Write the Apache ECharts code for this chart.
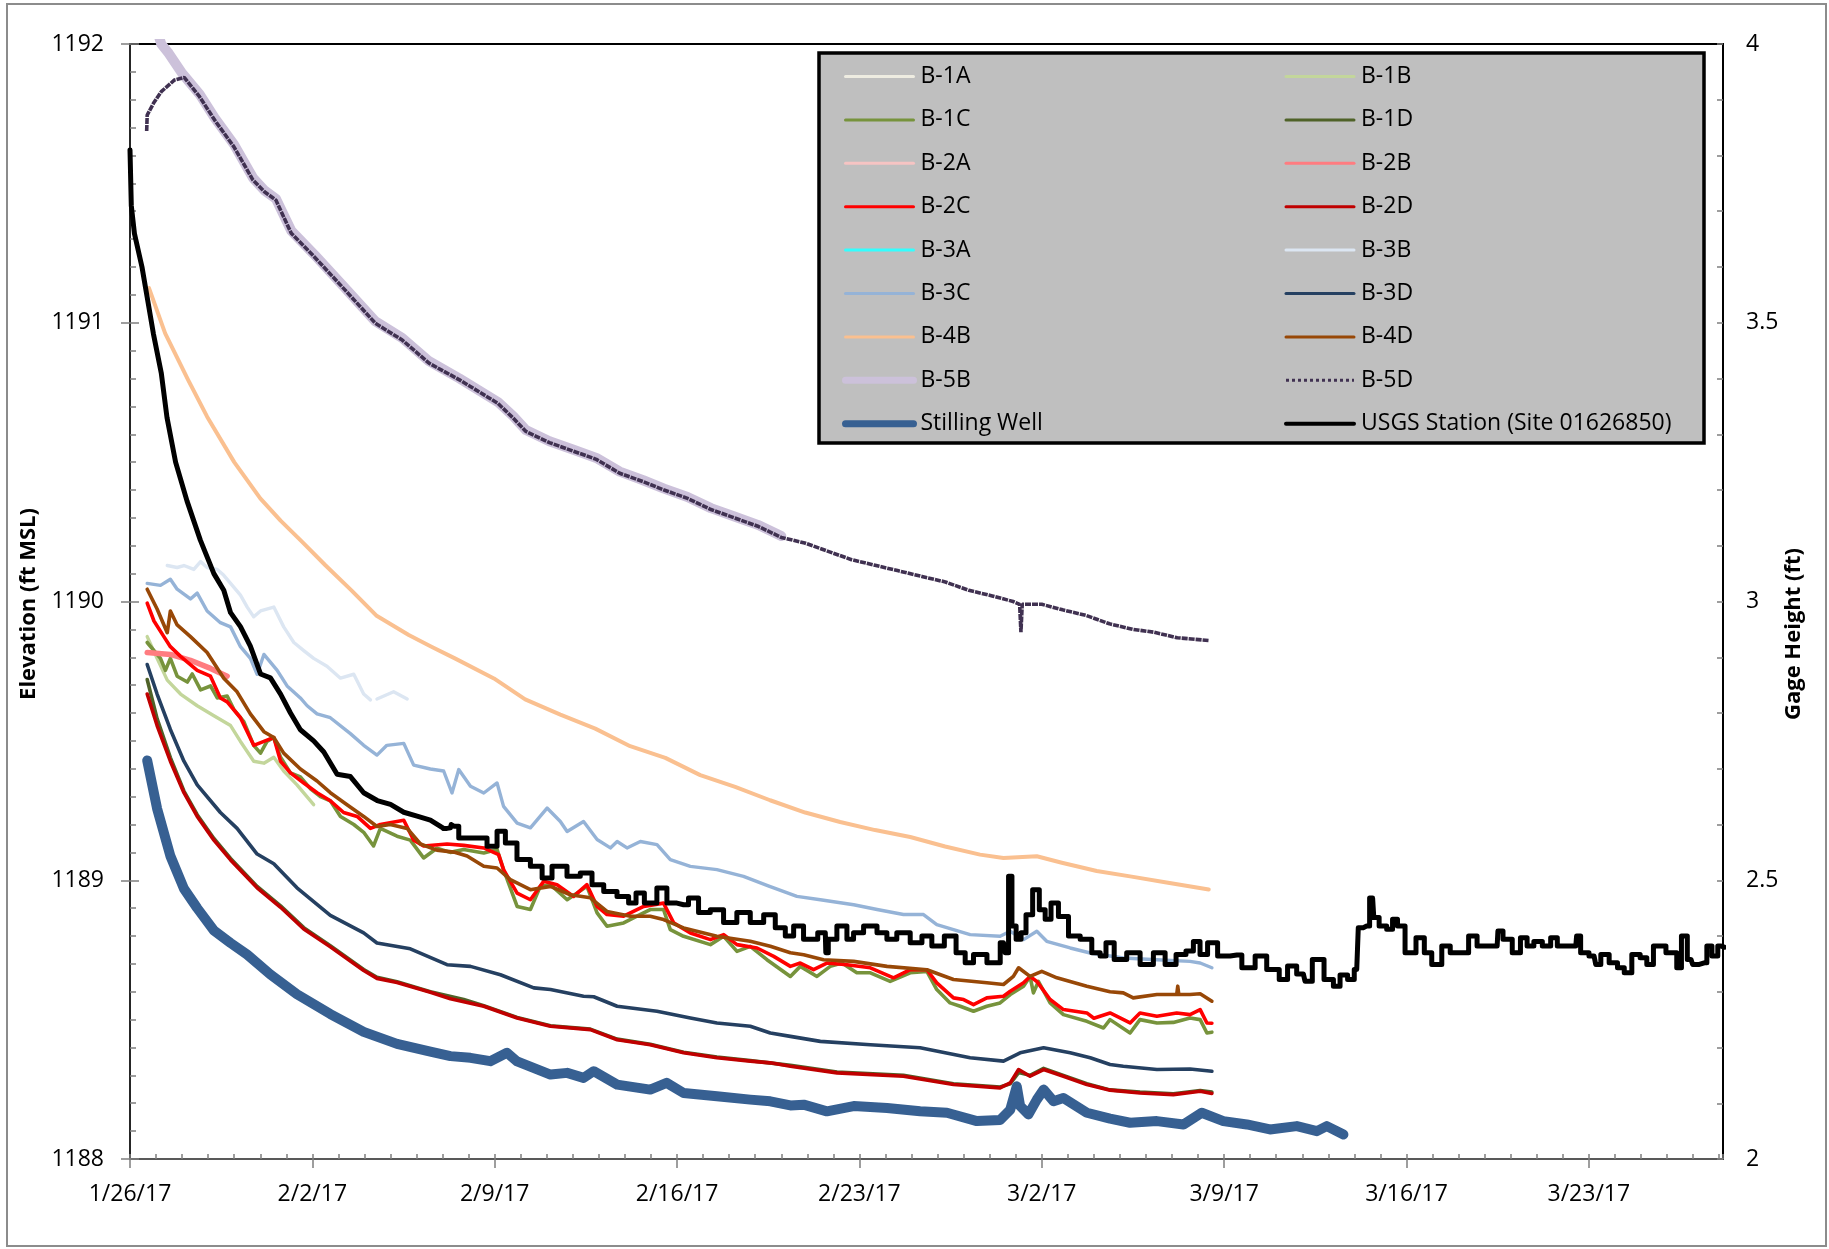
<!DOCTYPE html>
<html>
<head>
<meta charset="utf-8">
<title>Well and stream elevations, Jan–Mar 2017</title>
<script src="https://cdn.jsdelivr.net/npm/echarts@6/dist/echarts.min.js"></script>
<style>
  html, body { margin: 0; padding: 0; background: #fff; }
  #chart { width: 1829px; height: 1249px; }
</style>
</head>
<body>
<div id="chart"></div>
<script>
// Time is stored as days elapsed since the first day on the axis.
const START_DATE = Date.UTC(2017, 0, 26);
const X_MAX_DAYS = 61.15;

// Axis ranges and tick steps
const ELEV_MIN = 1188, ELEV_MAX = 1192, ELEV_STEP = 1;
const GAGE_MIN = 2, GAGE_MAX = 4, GAGE_STEP = 0.5;

// Groundwater elevations (ft MSL): [day, elevation]
const b1A = [];
const b1B = [[0.66,1189.874],[1.04,1189.796],[1.43,1189.718],[1.94,1189.668],[2.58,1189.626],[3.22,1189.59],[3.86,1189.555],[4.24,1189.498],[4.75,1189.427],[5.14,1189.42],[5.52,1189.441],[5.9,1189.392],[6.41,1189.342],[7.05,1189.271]];
const b1C = [[0.66,1189.853],[1.17,1189.796],[1.36,1189.753],[1.55,1189.796],[1.81,1189.732],[2.2,1189.711],[2.39,1189.74],[2.71,1189.683],[3.09,1189.697],[3.35,1189.654],[3.73,1189.661],[3.99,1189.612],[4.37,1189.569],[4.75,1189.484],[5.01,1189.456],[5.26,1189.498],[5.52,1189.512],[5.78,1189.441],[6.16,1189.385],[6.54,1189.371],[6.93,1189.328],[7.31,1189.3],[7.69,1189.285],[8.08,1189.229],[8.59,1189.2],[8.97,1189.172],[9.35,1189.123],[9.61,1189.186],[10.25,1189.158],[10.76,1189.144],[11.27,1189.08],[11.78,1189.115],[12.3,1189.1],[12.81,1189.11],[13.58,1189.098],[14.09,1189.11],[14.34,1189.038],[14.86,1188.906],[15.37,1188.895],[15.75,1188.978],[16.14,1188.984],[16.78,1188.93],[17.54,1188.978],[17.93,1188.883],[18.31,1188.835],[18.95,1188.847],[19.46,1188.871],[19.97,1188.895],[20.48,1188.895],[20.74,1188.823],[21.25,1188.799],[22.28,1188.769],[22.79,1188.799],[23.3,1188.745],[23.81,1188.763],[24.45,1188.715],[25.35,1188.655],[25.73,1188.691],[26.37,1188.655],[26.88,1188.691],[27.33,1188.703],[27.9,1188.668],[28.42,1188.668],[29.18,1188.637],[29.95,1188.668],[30.59,1188.673],[30.97,1188.608],[31.48,1188.56],[31.87,1188.548],[32.38,1188.53],[32.89,1188.548],[33.4,1188.56],[33.79,1188.59],[34.3,1188.62],[34.55,1188.655],[34.68,1188.596],[34.87,1188.637],[35.32,1188.56],[35.83,1188.518],[36.73,1188.494],[37.37,1188.47],[37.62,1188.5],[38.39,1188.452],[38.77,1188.5],[39.42,1188.488],[40.05,1188.49],[40.69,1188.506],[41.08,1188.5],[41.34,1188.452],[41.53,1188.455]];
const b1D = [[0.66,1189.72],[1.04,1189.58],[1.55,1189.44],[2.07,1189.32],[2.58,1189.235],[3.22,1189.15],[3.86,1189.078],[4.88,1188.978],[5.78,1188.908],[6.67,1188.83],[7.69,1188.765],[8.97,1188.68],[9.48,1188.652],[10.25,1188.636],[11.53,1188.6],[12.81,1188.572],[13.58,1188.55],[14.86,1188.508],[16.14,1188.478],[17.67,1188.466],[18.7,1188.43],[19.97,1188.412],[21.25,1188.383],[22.53,1188.366],[23.81,1188.353],[25.35,1188.336],[27.14,1188.312],[29.69,1188.3],[31.61,1188.27],[33.4,1188.258],[33.79,1188.27],[34.11,1188.31],[34.55,1188.3],[35.07,1188.325],[35.83,1188.3],[36.73,1188.27],[37.62,1188.248],[38.77,1188.24],[40.05,1188.234],[41.08,1188.246],[41.53,1188.24]];
const b2A = [];
const b2B = [[0.66,1189.817],[1.55,1189.81],[2.32,1189.789],[3.09,1189.76],[3.73,1189.732]];
const b2C = [[0.66,1189.994],[0.92,1189.93],[1.3,1189.874],[1.55,1189.838],[1.94,1189.803],[2.58,1189.753],[3.09,1189.732],[3.47,1189.654],[3.73,1189.64],[4.24,1189.583],[4.75,1189.484],[5.14,1189.498],[5.52,1189.512],[5.78,1189.427],[6.16,1189.385],[6.67,1189.349],[7.18,1189.314],[7.69,1189.285],[8.2,1189.243],[8.72,1189.229],[9.23,1189.186],[9.61,1189.2],[10.51,1189.215],[10.89,1189.144],[11.27,1189.123],[12.17,1189.13],[12.81,1189.125],[13.58,1189.116],[14.15,1189.092],[14.34,1189.038],[14.86,1188.954],[15.37,1188.93],[15.88,1188.996],[16.39,1188.984],[17.03,1188.942],[17.54,1188.984],[17.93,1188.906],[18.31,1188.877],[18.95,1188.871],[19.72,1188.906],[20.48,1188.918],[20.87,1188.847],[21.51,1188.811],[22.28,1188.787],[22.79,1188.805],[23.3,1188.769],[24.07,1188.757],[24.71,1188.727],[25.35,1188.691],[25.73,1188.703],[26.24,1188.679],[26.75,1188.703],[27.52,1188.697],[28.42,1188.686],[29.31,1188.65],[29.95,1188.679],[30.59,1188.679],[30.97,1188.632],[31.61,1188.578],[32.0,1188.572],[32.38,1188.554],[32.89,1188.578],[33.53,1188.584],[33.79,1188.602],[34.3,1188.632],[34.55,1188.655],[34.81,1188.637],[35.32,1188.572],[35.83,1188.536],[36.73,1188.524],[37.0,1188.505],[37.62,1188.524],[38.39,1188.488],[38.77,1188.524],[39.42,1188.512],[40.18,1188.524],[40.69,1188.518],[41.08,1188.536],[41.34,1188.488],[41.53,1188.487]];
const b2D = [[0.66,1189.668],[1.04,1189.555],[1.55,1189.427],[2.07,1189.314],[2.58,1189.229],[3.22,1189.144],[3.86,1189.073],[4.88,1188.973],[5.78,1188.903],[6.67,1188.825],[7.69,1188.761],[8.97,1188.676],[9.48,1188.648],[10.25,1188.633],[11.53,1188.598],[12.3,1188.575],[13.58,1188.548],[14.86,1188.506],[16.14,1188.476],[17.67,1188.464],[18.7,1188.428],[19.97,1188.41],[21.25,1188.381],[22.53,1188.363],[23.81,1188.351],[24.58,1188.345],[25.35,1188.333],[27.14,1188.309],[29.69,1188.297],[31.61,1188.267],[33.4,1188.255],[33.79,1188.273],[34.11,1188.321],[34.55,1188.297],[35.07,1188.321],[35.83,1188.297],[36.73,1188.267],[37.62,1188.247],[38.77,1188.237],[40.05,1188.231],[41.08,1188.243],[41.53,1188.235]];
const b3A = [];
const b3B = [[1.43,1190.129],[1.81,1190.122],[2.07,1190.129],[2.45,1190.115],[2.71,1190.143],[2.96,1190.122],[3.35,1190.115],[3.6,1190.094],[3.86,1190.065],[4.24,1190.023],[4.5,1189.98],[4.75,1189.945],[5.01,1189.966],[5.52,1189.98],[5.9,1189.909],[6.29,1189.853],[6.67,1189.824],[7.05,1189.796],[7.56,1189.768],[8.08,1189.725],[8.59,1189.739],[8.97,1189.668],[9.23,1189.647],[9.35,'-'],[9.48,1189.65],[10.12,1189.676],[10.64,1189.65]];
const b3C = [[0.66,1190.065],[1.17,1190.058],[1.55,1190.08],[1.81,1190.044],[2.32,1190.009],[2.58,1190.03],[2.96,1189.966],[3.47,1189.924],[3.86,1189.909],[4.24,1189.838],[4.62,1189.796],[4.88,1189.739],[5.14,1189.81],[5.65,1189.753],[6.03,1189.697],[6.54,1189.654],[6.8,1189.626],[7.18,1189.597],[7.69,1189.583],[8.46,1189.526],[8.97,1189.484],[9.48,1189.449],[9.86,1189.484],[10.51,1189.491],[10.89,1189.413],[11.53,1189.399],[12.04,1189.392],[12.36,1189.313],[12.62,1189.397],[13.07,1189.337],[13.58,1189.313],[14.09,1189.349],[14.34,1189.265],[14.86,1189.205],[15.37,1189.188],[16.01,1189.259],[16.52,1189.211],[16.78,1189.175],[17.41,1189.211],[17.93,1189.146],[18.44,1189.116],[18.7,1189.139],[19.08,1189.116],[19.59,1189.139],[20.23,1189.128],[20.74,1189.074],[21.51,1189.05],[22.53,1189.038],[23.55,1189.014],[24.5,1188.98],[25.6,1188.942],[26.5,1188.93],[27.78,1188.912],[28.68,1188.895],[29.69,1188.877],[30.46,1188.877],[30.97,1188.841],[32.25,1188.805],[33.4,1188.799],[33.79,1188.817],[34.3,1188.787],[34.81,1188.817],[35.19,1188.781],[36.09,1188.757],[36.86,1188.739],[38.13,1188.721],[39.42,1188.715],[40.69,1188.709],[41.08,1188.703],[41.53,1188.686]];
const b3D = [[0.66,1189.774],[1.04,1189.668],[1.55,1189.541],[2.07,1189.427],[2.58,1189.342],[3.47,1189.243],[4.11,1189.186],[4.88,1189.094],[5.52,1189.059],[6.41,1188.973],[7.69,1188.874],[8.97,1188.811],[9.48,1188.775],[10.76,1188.754],[12.17,1188.697],[13.07,1188.691],[14.22,1188.661],[15.5,1188.614],[16.14,1188.608],[17.41,1188.584],[17.8,1188.582],[18.7,1188.548],[20.23,1188.53],[21.51,1188.506],[22.53,1188.488],[23.81,1188.476],[24.58,1188.452],[25.35,1188.44],[26.5,1188.422],[28.42,1188.41],[30.33,1188.399],[32.25,1188.363],[33.53,1188.351],[34.17,1188.381],[35.07,1188.399],[36.09,1188.381],[36.86,1188.363],[37.62,1188.339],[38.13,1188.333],[39.42,1188.321],[40.69,1188.323],[41.53,1188.315]];
const b4B = [[0.73,1191.124],[1.35,1190.962],[2.23,1190.795],[2.96,1190.663],[4.0,1190.5],[5.0,1190.37],[5.78,1190.29],[6.6,1190.215],[7.5,1190.13],[8.5,1190.04],[9.45,1189.95],[10.7,1189.88],[11.59,1189.837],[12.49,1189.795],[13.97,1189.724],[15.17,1189.649],[16.52,1189.594],[17.86,1189.544],[19.2,1189.481],[20.55,1189.439],[21.89,1189.377],[23.23,1189.335],[24.57,1189.287],[25.92,1189.243],[27.26,1189.209],[28.6,1189.18],[29.95,1189.155],[31.29,1189.121],[32.63,1189.092],[33.53,1189.08],[34.81,1189.086],[35.77,1189.063],[37.11,1189.033],[38.45,1189.013],[39.79,1188.992],[41.41,1188.967]];
const b4D = [[0.66,1190.044],[1.04,1189.973],[1.43,1189.888],[1.55,1189.966],[1.81,1189.916],[2.32,1189.874],[2.96,1189.817],[3.6,1189.725],[4.11,1189.676],[4.62,1189.597],[5.14,1189.533],[5.52,1189.512],[5.9,1189.456],[6.54,1189.399],[7.18,1189.356],[7.69,1189.314],[8.33,1189.271],[8.97,1189.229],[9.48,1189.193],[9.99,1189.2],[10.64,1189.186],[11.15,1189.13],[11.78,1189.108],[12.43,1189.101],[12.94,1189.087],[13.58,1189.05],[14.09,1189.044],[14.6,1189.002],[15.37,1188.966],[16.14,1188.978],[16.9,1188.948],[17.67,1188.937],[18.31,1188.888],[19.21,1188.871],[19.97,1188.871],[20.48,1188.859],[21.25,1188.829],[22.53,1188.799],[23.81,1188.781],[24.58,1188.763],[25.35,1188.74],[25.86,1188.733],[26.62,1188.715],[27.78,1188.709],[29.06,1188.691],[30.59,1188.679],[31.61,1188.644],[32.89,1188.632],[33.53,1188.626],[33.91,1188.655],[34.11,1188.686],[34.55,1188.655],[35.0,1188.673],[35.58,1188.65],[36.73,1188.62],[37.62,1188.6],[38.13,1188.596],[38.51,1188.578],[39.42,1188.59],[40.18,1188.59],[40.22,1188.62],[40.26,1188.59],[40.69,1188.59],[41.08,1188.593],[41.53,1188.566]];
const b5B = [[1.0,1192.06],[1.2,1192.0],[1.49,1191.966],[2.0,1191.895],[2.67,1191.82],[3.25,1191.735],[3.99,1191.64],[4.72,1191.52],[5.16,1191.475],[5.6,1191.445],[6.19,1191.33],[7.07,1191.245],[8.25,1191.125],[9.42,1191.005],[10.45,1190.945],[11.48,1190.862],[12.65,1190.8],[14.12,1190.716],[14.71,1190.665],[15.2,1190.615],[16.1,1190.575],[17.0,1190.545],[17.9,1190.515],[18.8,1190.466],[19.7,1190.435],[20.5,1190.405],[21.4,1190.375],[22.3,1190.335],[23.2,1190.305],[24.1,1190.275],[25.0,1190.235]];
const b5D = [[0.64,1191.688],[0.65,1191.717],[0.66,1191.745],[0.9,1191.787],[1.2,1191.829],[1.71,1191.871],[2.08,1191.88],[2.67,1191.811],[3.25,1191.727],[3.99,1191.631],[4.72,1191.512],[5.16,1191.47],[5.6,1191.44],[6.19,1191.321],[7.07,1191.237],[8.25,1191.118],[9.42,1190.998],[10.45,1190.938],[11.48,1190.855],[12.65,1190.795],[14.12,1190.711],[14.71,1190.658],[15.2,1190.61],[16.1,1190.57],[17.0,1190.54],[17.9,1190.51],[18.8,1190.46],[19.7,1190.43],[20.5,1190.40],[21.4,1190.37],[22.3,1190.33],[23.2,1190.30],[24.1,1190.27],[25.0,1190.23],[25.9,1190.21],[26.8,1190.18],[27.7,1190.15],[28.6,1190.13],[29.5,1190.11],[30.4,1190.09],[31.3,1190.07],[32.2,1190.04],[33.1,1190.02],[33.9,1190.0],[34.15,1189.99],[34.2,1189.89],[34.25,1189.99],[35.0,1189.99],[35.8,1189.97],[36.7,1189.95],[37.6,1189.92],[38.5,1189.90],[39.3,1189.89],[40.2,1189.87],[41.4,1189.86]];
const stillingWell = [[0.66,1189.43],[1.04,1189.257],[1.55,1189.087],[2.07,1188.97],[2.58,1188.90],[3.22,1188.82],[3.86,1188.775],[4.5,1188.733],[5.39,1188.662],[6.41,1188.591],[7.69,1188.52],[8.97,1188.456],[10.25,1188.413],[11.53,1188.385],[12.3,1188.369],[13.07,1188.363],[13.83,1188.351],[14.47,1188.381],[14.86,1188.35],[16.14,1188.303],[16.78,1188.309],[17.41,1188.291],[17.8,1188.315],[18.7,1188.267],[19.97,1188.249],[20.6,1188.273],[21.25,1188.237],[22.53,1188.225],[23.81,1188.213],[24.58,1188.207],[25.35,1188.192],[25.86,1188.195],[26.75,1188.171],[27.78,1188.19],[29.06,1188.183],[30.33,1188.171],[31.36,1188.166],[32.51,1188.136],[33.4,1188.14],[33.79,1188.177],[34.04,1188.261],[34.17,1188.19],[34.49,1188.16],[34.81,1188.213],[35.07,1188.249],[35.45,1188.207],[35.83,1188.219],[36.73,1188.166],[37.62,1188.145],[38.39,1188.13],[39.42,1188.136],[40.44,1188.124],[41.14,1188.166],[41.97,1188.136],[42.87,1188.124],[43.76,1188.106],[44.79,1188.118],[45.56,1188.10],[45.94,1188.118],[46.58,1188.088]];

// Stream gage height (ft), right axis: [day, gage height].
// The recession after the opening peak, then the stepped record that follows.
const usgsRecession = [[0.0,3.81],[0.05,3.71],[0.17,3.66],[0.46,3.60],[0.68,3.54],[0.9,3.48],[1.2,3.41],[1.42,3.33],[1.75,3.25],[2.19,3.18],[2.7,3.11],[2.96,3.08],[3.22,3.05],[3.6,3.02],[3.86,2.98],[4.24,2.955],[4.62,2.92],[5.01,2.87],[5.39,2.863],[5.78,2.834],[6.16,2.80],[6.54,2.77],[7.05,2.75],[7.44,2.73],[7.95,2.69],[8.46,2.686],[8.97,2.657],[9.49,2.643],[10.0,2.636],[10.51,2.622],[11.02,2.615],[11.53,2.608],[12.04,2.593]];
const usgsStepped = [[12.04,2.593],[12.3,2.594],[12.36,2.60],[12.43,2.597],[12.81,2.576],[13.45,2.576],[13.96,2.561],[14.22,2.588],[14.6,2.567],[15.11,2.537],[15.63,2.525],[16.01,2.504],[16.39,2.525],[16.52,2.525],[17.03,2.507],[17.54,2.513],[17.93,2.492],[18.44,2.48],[18.95,2.471],[19.33,2.459],[19.52,2.477],[19.97,2.459],[20.48,2.486],[20.74,2.459],[21.25,2.456],[21.63,2.468],[22.02,2.442],[22.53,2.447],[23.04,2.424],[23.55,2.442],[24.07,2.424],[24.58,2.438],[24.96,2.415],[25.35,2.40],[25.6,2.418],[26.11,2.394],[26.69,2.406],[26.73,2.37],[26.88,2.394],[27.39,2.418],[27.65,2.394],[27.9,2.406],[28.42,2.418],[28.93,2.406],[29.18,2.394],[29.69,2.406],[30.21,2.388],[30.59,2.40],[30.97,2.382],[31.55,2.40],[31.87,2.37],[32.25,2.352],[32.51,2.367],[33.28,2.352],[33.53,2.388],[33.66,2.37],[33.79,2.507],[33.92,2.418],[34.11,2.394],[34.3,2.406],[34.49,2.438],[34.81,2.483],[35.0,2.447],[35.26,2.43],[35.45,2.459],[35.83,2.435],[36.22,2.40],[36.73,2.394],[37.11,2.37],[37.37,2.364],[37.56,2.388],[38.0,2.358],[38.52,2.37],[39.03,2.349],[39.54,2.37],[39.93,2.349],[40.38,2.367],[40.69,2.373],[40.95,2.39],[41.2,2.367],[41.53,2.388],[41.97,2.364],[42.49,2.366],[42.87,2.343],[43.51,2.364],[43.76,2.34],[43.89,2.34],[44.34,2.322],[44.53,2.346],[45.04,2.332],[45.17,2.319],[45.6,2.358],[46.07,2.322],[46.32,2.31],[46.58,2.33],[46.9,2.322],[47.09,2.34],[47.21,2.415],[47.47,2.418],[47.7,2.468],[47.79,2.433],[48.11,2.418],[48.37,2.412],[48.56,2.43],[48.75,2.418],[49.14,2.37],[49.59,2.397],[49.78,2.37],[50.16,2.349],[50.55,2.382],[50.81,2.37],[51.19,2.37],[51.58,2.40],[51.84,2.382],[52.48,2.382],[52.54,2.409],[52.87,2.394],[53.25,2.37],[53.5,2.397],[53.76,2.382],[54.02,2.39],[54.41,2.382],[54.66,2.397],[54.92,2.382],[55.5,2.382],[55.56,2.40],[55.81,2.37],[56.2,2.364],[56.33,2.349],[56.59,2.367],[56.97,2.352],[57.23,2.343],[57.49,2.334],[57.81,2.367],[58.13,2.361],[58.32,2.349],[58.64,2.382],[59.28,2.37],[59.47,2.343],[59.64,2.40],[59.92,2.358],[60.05,2.349],[60.43,2.352],[60.63,2.382],[60.82,2.364],[61.08,2.382],[61.2,2.38]];

const USGS_NAME = 'USGS Station (Site 01626850)';
const LEFT_COLUMN = ['B-1A','B-1C','B-2A','B-2C','B-3A','B-3C','B-4B','B-5B','Stilling Well'];
const RIGHT_COLUMN = ['B-1B','B-1D','B-2B','B-2D','B-3B','B-3D','B-4D','B-5D', USGS_NAME];

const FONT = "'Open Sans', 'Liberation Sans', sans-serif";

function dayLabel(d) {
  const t = new Date(START_DATE + Math.round(d * 86400000));
  return (t.getUTCMonth() + 1) + '/' + t.getUTCDate() + '/' + String(t.getUTCFullYear()).slice(2);
}

function lineSeries(name, data, color, width, extra) {
  return Object.assign({
    name: name,
    type: 'line',
    data: data,
    symbol: 'none',
    showSymbol: false,
    connectNulls: false,
    clip: true,
    xAxisIndex: 0,
    yAxisIndex: 0,
    itemStyle: { color: color },
    lineStyle: { color: color, width: width, cap: 'round', join: 'round' },
    emphasis: { disabled: true }
  }, extra || {});
}

const series = [
  lineSeries('B-1A', b1A, '#eeece1', 3),
  lineSeries('B-1B', b1B, '#c3d69b', 3.4),
  lineSeries('B-1C', b1C, '#77933c', 3.6),
  lineSeries('B-1D', b1D, '#4f6228', 3.6),
  lineSeries('B-2A', b2A, '#f6c4c3', 3),
  lineSeries('B-2B', b2B, '#ff7c80', 5.5),
  lineSeries('B-2C', b2C, '#ff0000', 3.6),
  lineSeries('B-2D', b2D, '#c00000', 3.6),
  lineSeries('B-3A', b3A, '#33ffff', 3),
  lineSeries('B-3B', b3B, '#dce6f2', 3.4),
  lineSeries('B-3C', b3C, '#95b3d7', 3.4),
  lineSeries('B-3D', b3D, '#254061', 3.6),
  lineSeries('B-4B', b4B, '#fac090', 4),
  lineSeries('B-4D', b4D, '#984807', 3.6),
  lineSeries('B-5B', b5B, '#ccc1da', 10),
  lineSeries('B-5D', b5D, '#403151', 3.6, { lineStyle: { color: '#403151', width: 3.6, type: [6, 1] } }),
  lineSeries('Stilling Well', stillingWell, '#376092', 10),
  lineSeries(USGS_NAME, usgsRecession, '#000000', 5, { yAxisIndex: 1 }),
  lineSeries(USGS_NAME, usgsStepped, '#000000', 5, { yAxisIndex: 1, step: 'middle' })
];

const legendWidths = { 'B-5B': 7, 'Stilling Well': 7 };
legendWidths[USGS_NAME] = 4;
function legendItems(names) {
  return names.map(function (n) {
    const item = { name: n, lineStyle: { width: legendWidths[n] || 3 }, itemStyle: { opacity: 0 } };
    if (n === 'B-5D') item.lineStyle = { width: 3, type: [3, 3] };
    return item;
  });
}
function legendColumn(names, left) {
  return {
    data: legendItems(names),
    orient: 'vertical',
    left: left,
    top: 60,
    itemWidth: 68,
    itemHeight: 14,
    itemGap: 20.4,
    selectedMode: false,
    z: 6,
    itemStyle: { opacity: 0 },
    textStyle: { fontFamily: FONT, fontSize: 23, color: '#000', padding: [0, 0, 0, 2] }
  };
}

const tickStyle = { color: '#7f7f7f', width: 1.5 };

const option = {
  animation: false,
  backgroundColor: '#ffffff',
  textStyle: { fontFamily: FONT, color: '#000' },
  grid: { left: 130, right: 106, top: 44, bottom: 90, show: true, borderColor: '#000', borderWidth: 2 },
  legend: [legendColumn(LEFT_COLUMN, 837), legendColumn(RIGHT_COLUMN, 1279)],
  xAxis: [
    {
      type: 'value', position: 'bottom', min: 0, max: X_MAX_DAYS, interval: 7,
      axisLine: { show: true, lineStyle: { color: '#595959', width: 2 } },
      axisTick: { show: true, length: 9, lineStyle: tickStyle },
      axisLabel: { formatter: dayLabel, fontSize: 23, margin: 24, color: '#000', fontFamily: FONT, showMaxLabel: false },
      splitLine: { show: false }
    },
    {
      type: 'value', position: 'bottom', min: 0, max: X_MAX_DAYS, interval: 1,
      axisLine: { show: false },
      axisTick: { show: true, inside: true, length: 5, lineStyle: tickStyle },
      axisLabel: { show: false },
      splitLine: { show: false }
    }
  ],
  yAxis: [
    {
      type: 'value', position: 'left', min: ELEV_MIN, max: ELEV_MAX, interval: ELEV_STEP,
      axisLine: { show: true, lineStyle: { color: '#000', width: 2 } },
      axisTick: { show: true, length: 9, lineStyle: tickStyle },
      axisLabel: { formatter: function (v) { return String(v); }, fontSize: 23, margin: 26, color: '#000', fontFamily: FONT },
      splitLine: { show: false }
    },
    {
      type: 'value', position: 'right', min: GAGE_MIN, max: GAGE_MAX, interval: GAGE_STEP,
      axisLine: { show: true, lineStyle: { color: '#262626', width: 2 } },
      axisTick: { show: true, length: 9, lineStyle: tickStyle },
      axisLabel: { formatter: function (v) { return String(v); }, fontSize: 23, margin: 23, color: '#000', fontFamily: FONT },
      splitLine: { show: false }
    },
    {
      type: 'value', position: 'left', min: ELEV_MIN, max: ELEV_MAX, interval: 0.1,
      axisLine: { show: false },
      axisTick: { show: true, inside: true, length: 6, lineStyle: tickStyle },
      axisLabel: { show: false },
      splitLine: { show: false }
    },
    {
      type: 'value', position: 'right', min: GAGE_MIN, max: GAGE_MAX, interval: 0.1,
      axisLine: { show: false },
      axisTick: { show: true, inside: true, length: 6, lineStyle: tickStyle },
      axisLabel: { show: false },
      splitLine: { show: false }
    }
  ],
  graphic: [
    { type: 'rect', z: 0, shape: { x: 7, y: 4, width: 1819, height: 1242 },
      style: { fill: 'none', stroke: '#8c8c8c', lineWidth: 2 } },
    { type: 'rect', z: 5, shape: { x: 819, y: 53, width: 885, height: 390 },
      style: { fill: '#bfbfbf', stroke: '#000', lineWidth: 3.5 } },
    { type: 'text', z: 10, x: 29, y: 604, rotation: Math.PI / 2,
      style: { text: 'Elevation (ft MSL)', fontFamily: FONT, fontSize: 22, fontWeight: 'bold', fill: '#000', align: 'center', verticalAlign: 'middle' } },
    { type: 'text', z: 10, x: 1794, y: 634, rotation: Math.PI / 2,
      style: { text: 'Gage Height (ft)', fontFamily: FONT, fontSize: 22, fontWeight: 'bold', fill: '#000', align: 'center', verticalAlign: 'middle' } }
  ],
  series: series
};

const chart = echarts.init(document.getElementById('chart'), null, { renderer: 'canvas' });
chart.setOption(option);
</script>
</body>
</html>
